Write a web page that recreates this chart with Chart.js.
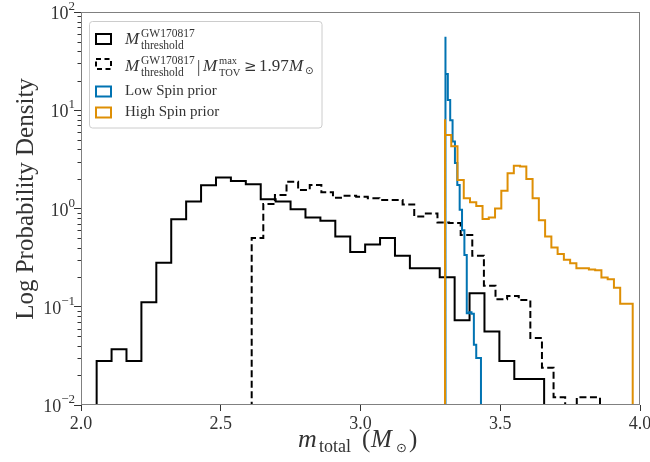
<!DOCTYPE html>
<html>
<head>
<meta charset="utf-8">
<script src="https://cdn.jsdelivr.net/npm/chart.js@4"></script>
<style>
  html, body { margin: 0; padding: 0; background: #fff; }
  #wrap { width: 650px; height: 462px; }
</style>
</head>
<body>
<div id="wrap"><canvas id="chart"></canvas></div>
<script>
// histogram bin ranges [first edge, last edge] and bin heights
const solidRange = [2.056, 3.657];
const solidVals = [0.0187, 0.028, 0.037, 0.028, 0.111, 0.281, 0.776, 1.18, 1.72, 2.07,
  1.9, 1.77, 1.24, 1.18, 0.98, 0.81, 0.75, 0.52, 0.36, 0.43,
  0.50, 0.33, 0.246, 0.246, 0.2, 0.073, 0.137, 0.056, 0.028, 0.0184];

const dashedRange = [2.6107, 3.8569];
const dashedVals = [0.176, 0.5, 1.11, 1.37, 1.87, 1.54, 1.73, 1.46, 1.29, 1.35,
  1.32, 1.27, 1.22, 1.22, 1.1, 0.83, 0.89, 0.72, 0.71, 0.537,
  0.33, 0.164, 0.119, 0.129, 0.117, 0.048, 0.024, 0.012, 0.005, 0.012];

const lowSpinRange = [3.304, 3.431];
const lowSpinVals = [56, 23.4, 12.7, 7.9, 4.8, 2.9, 1.73, 0.97, 0.60, 0.336,
  0.086, 0.088, 0.085, 0.041, 0.030];

const highSpinRange = [3.3023, 3.9739];
const highSpinVals = [8.1, 5.6, 4.3, 1.95, 1.27, 1.16, 1.06, 0.78, 0.81, 1.0,
  1.52, 2.28, 2.73, 2.67, 2.0, 1.27, 0.76, 0.52, 0.40, 0.344,
  0.30, 0.277, 0.246, 0.246, 0.24, 0.235, 0.198, 0.19, 0.156, 0.107];

const xTicks = [2.0, 2.5, 3.0, 3.5, 4.0];
const yDecades = [-2, -1, 0, 1, 2];

const FLOOR = 1e-3; // below the axis, so the outer edges drop out of view

// step outline of a histogram: left edge of every bin plus the closing edge
function histPoints(range, vals) {
  const w = (range[1] - range[0]) / vals.length;
  const pts = [{ x: range[0], y: FLOOR }];
  vals.forEach((v, i) => pts.push({ x: range[0] + i * w, y: v }));
  pts.push({ x: range[1], y: vals[vals.length - 1] });
  pts.push({ x: range[1], y: FLOOR });
  return pts;
}

const BLUE = "#0173b2";
const ORANGE = "#de8f05";
const SERIF = "'Liberation Serif', 'DejaVu Serif', serif";

function runs(ctx, y, parts) {
  parts.forEach(p => {
    ctx.font = p.font;
    ctx.fillText(p.t, p.x, y + (p.dy || 0));
  });
}

const decor = {
  id: "decor",
  afterDraw(chart) {
    const ctx = chart.ctx;
    const a = chart.chartArea;
    const ys = chart.scales.y;
    ctx.save();

    // frame
    ctx.strokeStyle = "#808080";
    ctx.lineWidth = 1;
    ctx.strokeRect(a.left + 0.5, a.top + 0.5, a.right - a.left - 1, a.bottom - a.top - 1);

    // minor log ticks
    ctx.strokeStyle = "#333";
    ctx.beginPath();
    for (let k = -2; k < 2; k++) {
      for (let m = 2; m <= 9; m++) {
        const py = Math.round(ys.getPixelForValue(m * Math.pow(10, k))) + 0.5;
        ctx.moveTo(a.left - 3.5, py);
        ctx.lineTo(a.left, py);
      }
    }
    ctx.stroke();

    // y tick labels 10^k
    ctx.fillStyle = "#333";
    ctx.textBaseline = "alphabetic";
    ctx.textAlign = "left";
    yDecades.forEach(k => {
      const py = ys.getPixelForValue(Math.pow(10, k));
      const exp = k < 0 ? "\u2212" + (-k) : String(k);
      ctx.font = "13px " + SERIF;
      const we = ctx.measureText(exp).width;
      ctx.font = "18px " + SERIF;
      const wb = ctx.measureText("10").width;
      const right = a.left - 6;
      ctx.fillText("10", right - we - wb, py + 7);
      ctx.font = "13px " + SERIF;
      ctx.fillText(exp, right - we, py - 2);
    });

    // y title
    ctx.save();
    ctx.translate(33, 199);
    ctx.rotate(-Math.PI / 2);
    ctx.textAlign = "center";
    ctx.font = "25px " + SERIF;
    ctx.fillStyle = "#333";
    ctx.fillText("Log Probability Density", 0, 0);
    ctx.restore();

    // x title  m_total (M_sun)
    ctx.fillStyle = "#333";
    ctx.textAlign = "left";
    runs(ctx, 447, [
      { t: "m", x: 298, font: "italic 26px " + SERIF },
      { t: "total", x: 319, dy: 5, font: "18px " + SERIF },
      { t: "(", x: 362, font: "25px " + SERIF },
      { t: "M", x: 371, font: "italic 25px " + SERIF },
      { t: "\u2299", x: 396, dy: 5, font: "13px 'DejaVu Sans', sans-serif" },
      { t: ")", x: 409, font: "25px " + SERIF }
    ]);

    // legend
    ctx.fillStyle = "rgba(255,255,255,0.85)";
    ctx.strokeStyle = "#cccccc";
    ctx.lineWidth = 1;
    ctx.beginPath();
    ctx.roundRect(89.5, 21.5, 232.5, 106.5, 3);
    ctx.fill();
    ctx.stroke();

    const handles = [
      { y: 33, color: "#000", dash: [] },
      { y: 58, color: "#000", dash: [5, 3.5] },
      { y: 85.5, color: BLUE, dash: [] },
      { y: 106.5, color: ORANGE, dash: [] }
    ];
    ctx.lineWidth = 2;
    handles.forEach(h => {
      ctx.strokeStyle = h.color;
      ctx.setLineDash(h.dash);
      ctx.strokeRect(96, h.y + 1, 15, 10);
    });
    ctx.setLineDash([]);

    ctx.fillStyle = "#333";
    const big = "italic 17px " + SERIF;
    const sm = "11.5px " + SERIF;
    const sm2 = "10.5px " + SERIF;
    runs(ctx, 44, [
      { t: "M", x: 125, font: big },
      { t: "GW170817", x: 141, dy: -7, font: sm },
      { t: "threshold", x: 141, dy: 4.5, font: sm }
    ]);
    runs(ctx, 71, [
      { t: "M", x: 125, font: big },
      { t: "GW170817", x: 141, dy: -7, font: sm },
      { t: "threshold", x: 141, dy: 4.5, font: sm },
      { t: "|", x: 197, dy: 1, font: "17px " + SERIF },
      { t: "M", x: 203, font: big },
      { t: "max", x: 219, dy: -7, font: sm2 },
      { t: "TOV", x: 219, dy: 4.5, font: sm2 },
      { t: "\u2265", x: 244, font: "15px 'DejaVu Serif', serif" },
      { t: "1.97", x: 259, font: "17px " + SERIF },
      { t: "M", x: 289, font: big },
      { t: "\u2299", x: 305, dy: 3, font: "10px 'DejaVu Sans', sans-serif" }
    ]);
    ctx.font = "15px " + SERIF;
    ctx.fillText("Low Spin prior", 125, 94.5);
    ctx.fillText("High Spin prior", 125, 115.5);

    ctx.restore();
  }
};

const ctx = document.getElementById("chart").getContext("2d");

const lineStyle = { fill: false, pointRadius: 0, stepped: "after", tension: 0, borderWidth: 2 };

new Chart(ctx, {
  type: "line",
  data: {
    datasets: [
      { ...lineStyle, label: "threshold", data: histPoints(solidRange, solidVals), borderColor: "#000", order: 4 },
      { ...lineStyle, label: "threshold | TOV", data: histPoints(dashedRange, dashedVals), borderColor: "#000", borderDash: [7, 3.5], order: 3 },
      { ...lineStyle, label: "Low Spin prior", data: histPoints(lowSpinRange, lowSpinVals), borderColor: BLUE, order: 2 },
      { ...lineStyle, label: "High Spin prior", data: histPoints(highSpinRange, highSpinVals), borderColor: ORANGE, order: 1 }
    ]
  },
  options: {
    responsive: true,
    maintainAspectRatio: false,
    animation: false,
    layout: { padding: { top: 12, right: 10, left: 0, bottom: 0 } },
    plugins: { legend: { display: false }, tooltip: { enabled: false } },
    scales: {
      x: {
        type: "linear",
        min: 2,
        max: 4,
        afterBuildTicks: s => { s.ticks = xTicks.map(v => ({ value: v })); },
        afterFit: s => { s.height = 57; s.paddingLeft = 0; s.paddingRight = 0; },
        ticks: {
          callback: v => v.toFixed(1),
          font: { family: SERIF, size: 18 },
          color: "#333",
          padding: 2,
          maxRotation: 0
        },
        grid: { drawOnChartArea: false, drawTicks: true, tickLength: 6, color: "#333" },
        border: { display: false }
      },
      y: {
        type: "logarithmic",
        min: 0.01,
        max: 100,
        afterBuildTicks: s => { s.ticks = yDecades.map(k => ({ value: Math.pow(10, k) })); },
        afterFit: s => { s.width = 81; s.paddingTop = 0; s.paddingBottom = 0; },
        ticks: { display: false },
        grid: { drawOnChartArea: false, drawTicks: true, tickLength: 7, color: "#333" },
        border: { display: false }
      }
    }
  },
  plugins: [decor]
});
</script>
</body>
</html>
